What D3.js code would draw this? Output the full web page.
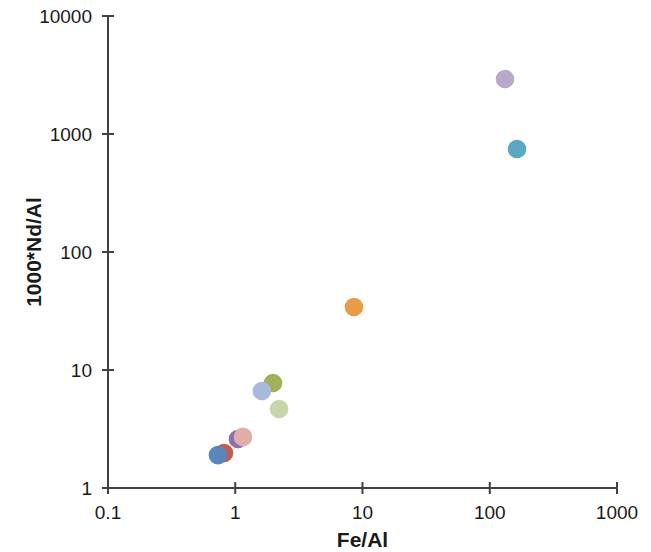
<!DOCTYPE html>
<html>
<head>
<meta charset="utf-8">
<script src="https://cdn.jsdelivr.net/npm/d3@7/dist/d3.min.js"></script>
<style>
  html, body { margin: 0; padding: 0; background: #fff; }
  svg { display: block; }
  text { font-family: "Liberation Sans", Arial, sans-serif; }
</style>
</head>
<body>
<svg id="chart" width="651" height="552"></svg>
<script>
// Data
const names   = ["S1", "S2", "S3", "S4", "S5", "S6", "S7", "S8", "S9", "S10"];
const feAl    = [131.8, 163.7, 8.57, 1.98, 1.62, 2.21, 1.05, 1.15, 0.816, 0.731];
const ndAl    = [2924, 746, 34.2, 7.76, 6.64, 4.67, 2.60, 2.71, 1.98, 1.90];
const colors  = ["#b8a9cb", "#5aa8c1", "#e89c4a", "#9fb25a", "#a7b9dc", "#c8d7ab",
                 "#8c72ab", "#e2aca8", "#c35c4e", "#5986bb"];
const xTicks  = [0.1, 1, 10, 100, 1000];
const yTicks  = [1, 10, 100, 1000, 10000];
const xTitle  = "Fe/Al";
const yTitle  = "1000*Nd/Al";

const svg = d3.select("#chart");
const mLeft = 108, mRight = 617, mTop = 16, mBottom = 488;

const x = d3.scaleLog().domain([0.1, 1000]).range([mLeft, mRight]);
const y = d3.scaleLog().domain([1, 10000]).range([mBottom, mTop]);

const axisColor = "#404040";

// X axis
const gx = svg.append("g").attr("transform", `translate(0,${mBottom})`);
gx.append("line").attr("x1", mLeft).attr("x2", mRight).attr("stroke", axisColor).attr("stroke-width", 2);
gx.selectAll("line.t").data(xTicks).enter().append("line").attr("class", "t")
  .attr("x1", d => x(d)).attr("x2", d => x(d)).attr("y1", -6).attr("y2", 6)
  .attr("stroke", axisColor).attr("stroke-width", 2);
gx.selectAll("text").data(xTicks).enter().append("text")
  .attr("x", d => x(d)).attr("y", 31).attr("text-anchor", "middle")
  .attr("font-size", 19).attr("fill", "#1a1a1a").text(d => String(d));

// Y axis
const gy = svg.append("g").attr("transform", `translate(${mLeft},0)`);
gy.append("line").attr("y1", mTop).attr("y2", mBottom).attr("stroke", axisColor).attr("stroke-width", 2);
gy.selectAll("line.t").data(yTicks).enter().append("line").attr("class", "t")
  .attr("y1", d => y(d)).attr("y2", d => y(d)).attr("x1", -6).attr("x2", 6)
  .attr("stroke", axisColor).attr("stroke-width", 2);
gy.selectAll("text").data(yTicks).enter().append("text")
  .attr("x", -16).attr("y", d => y(d)).attr("dy", "0.35em").attr("text-anchor", "end")
  .attr("font-size", 19).attr("fill", "#1a1a1a").text(d => String(d));

// Titles
svg.append("text").attr("x", (mLeft + mRight) / 2).attr("y", 547).attr("text-anchor", "middle")
  .attr("font-size", 21).attr("font-weight", "bold").attr("fill", "#1a1a1a").text(xTitle);
svg.append("text").attr("transform", `translate(41,${(mTop + mBottom) / 2}) rotate(-90)`)
  .attr("text-anchor", "middle").attr("font-size", 21).attr("font-weight", "bold")
  .attr("fill", "#1a1a1a").text(yTitle);

// Points
const pts = names.map((n, i) => ({ n, x: feAl[i], y: ndAl[i], c: colors[i] }));
svg.append("g").selectAll("circle").data(pts).enter().append("circle")
  .attr("cx", d => x(d.x)).attr("cy", d => y(d.y)).attr("r", 9.3)
  .attr("fill", d => d.c);
</script>
</body>
</html>
